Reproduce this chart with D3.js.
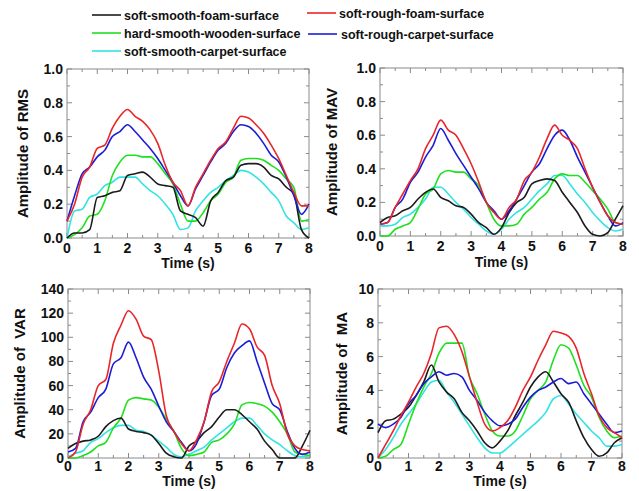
<!DOCTYPE html>
<html>
<head>
<meta charset="utf-8">
<script src="https://cdn.jsdelivr.net/npm/d3@7"></script>
<style>
  body { margin: 0; background: #fff; }
  svg text { font-family: "Liberation Sans", Arial, sans-serif; font-weight: bold; fill: #111; }
</style>
</head>
<body>
<svg width="639" height="491"></svg>
<script>
'use strict';

// time samples (s), every 0.25 s
const times = [0, 0.25, 0.5, 0.75, 1, 1.25, 1.5, 1.75, 2, 2.25, 2.5, 2.75, 3, 3.25, 3.5, 3.75, 4,
               4.25, 4.5, 4.75, 5, 5.25, 5.5, 5.75, 6, 6.25, 6.5, 6.75, 7, 7.25, 7.5, 7.75, 8];

const seriesNames = ['soft-smooth-foam-surface', 'soft-rough-foam-surface', 'hard-smooth-wooden-surface',
                     'soft-rough-carpet-surface', 'soft-smooth-carpet-surface'];
const seriesColors = ['#1c1c1c', '#e8262a', '#1fe01f', '#1c1cd6', '#33e3e3'];

// RMS
const rmsBlack = [0.0, 0.03, 0.03, 0.05, 0.24, 0.25, 0.27, 0.28, 0.37, 0.38, 0.39, 0.36, 0.32, 0.31, 0.30, 0.16, 0.14,
                  0.12, 0.07, 0.22, 0.27, 0.34, 0.36, 0.43, 0.44, 0.44, 0.42, 0.37, 0.35, 0.30, 0.26, 0.05, 0.0];
const rmsRed   = [0.10, 0.20, 0.36, 0.42, 0.53, 0.55, 0.65, 0.72, 0.76, 0.72, 0.69, 0.64, 0.56, 0.43, 0.33, 0.28, 0.19,
                  0.30, 0.38, 0.46, 0.53, 0.57, 0.65, 0.72, 0.71, 0.67, 0.62, 0.55, 0.47, 0.37, 0.27, 0.19, 0.19];
const rmsGreen = [0.0, 0.02, 0.06, 0.13, 0.14, 0.22, 0.37, 0.45, 0.49, 0.49, 0.48, 0.48, 0.44, 0.38, 0.32, 0.20, 0.10,
                  0.10, 0.15, 0.22, 0.26, 0.33, 0.36, 0.46, 0.47, 0.47, 0.46, 0.43, 0.40, 0.35, 0.30, 0.10, 0.11];
const rmsBlue  = [0.10, 0.25, 0.38, 0.42, 0.48, 0.52, 0.60, 0.63, 0.67, 0.63, 0.58, 0.53, 0.47, 0.40, 0.33, 0.25, 0.19,
                  0.29, 0.37, 0.45, 0.52, 0.56, 0.63, 0.67, 0.66, 0.62, 0.56, 0.49, 0.45, 0.36, 0.25, 0.14, 0.20];
const rmsCyan  = [0.0, 0.16, 0.17, 0.24, 0.26, 0.31, 0.33, 0.36, 0.36, 0.36, 0.32, 0.28, 0.25, 0.20, 0.14, 0.05, 0.06,
                  0.16, 0.22, 0.27, 0.30, 0.34, 0.37, 0.40, 0.39, 0.36, 0.32, 0.27, 0.22, 0.13, 0.09, 0.05, 0.06];

// MAV
const mavBlack = [0.08, 0.11, 0.12, 0.15, 0.17, 0.22, 0.26, 0.28, 0.23, 0.21, 0.18, 0.17, 0.13, 0.08, 0.05, 0.01, 0.05,
                  0.14, 0.20, 0.23, 0.31, 0.33, 0.34, 0.33, 0.26, 0.20, 0.14, 0.06, 0.01, 0.0, 0.02, 0.10, 0.18];
const mavRed   = [0.07, 0.08, 0.17, 0.25, 0.33, 0.40, 0.52, 0.60, 0.69, 0.63, 0.60, 0.52, 0.43, 0.32, 0.20, 0.14, 0.10,
                  0.17, 0.22, 0.33, 0.38, 0.47, 0.58, 0.66, 0.60, 0.57, 0.52, 0.40, 0.29, 0.20, 0.12, 0.08, 0.07];
const mavGreen = [0.0, 0.0, 0.04, 0.06, 0.08, 0.16, 0.25, 0.28, 0.37, 0.39, 0.38, 0.38, 0.34, 0.30, 0.20, 0.10, 0.06,
                  0.06, 0.07, 0.13, 0.17, 0.22, 0.26, 0.34, 0.37, 0.36, 0.36, 0.32, 0.27, 0.22, 0.16, 0.08, 0.07];
const mavBlue  = [0.07, 0.08, 0.17, 0.22, 0.32, 0.38, 0.47, 0.54, 0.64, 0.57, 0.49, 0.42, 0.35, 0.28, 0.20, 0.15, 0.10,
                  0.15, 0.22, 0.30, 0.38, 0.43, 0.52, 0.60, 0.63, 0.57, 0.47, 0.38, 0.29, 0.20, 0.12, 0.06, 0.08];
const mavCyan  = [0.06, 0.06, 0.07, 0.11, 0.13, 0.17, 0.22, 0.29, 0.29, 0.25, 0.20, 0.16, 0.11, 0.07, 0.03, 0.01, 0.04,
                  0.10, 0.14, 0.17, 0.22, 0.27, 0.31, 0.36, 0.36, 0.31, 0.25, 0.20, 0.14, 0.09, 0.05, 0.03, 0.04];

// VAR
const varBlack = [8, 12, 14, 15, 18, 26, 31, 33, 24, 22, 21, 19, 12, 4, 1, 0, 10,
                  14, 21, 26, 34, 40, 40, 36, 30, 24, 14, 7, 0, 0, 0, 10, 23];
const varRed   = [0, 5, 28, 40, 60, 65, 95, 110, 122, 115, 101, 98, 72, 35, 22, 12, 6,
                  15, 30, 55, 63, 80, 95, 111, 107, 92, 85, 60, 45, 20, 10, 7, 6];
const varGreen = [0, 0, 2, 5, 10, 13, 25, 33, 48, 50, 49, 48, 42, 32, 22, 8, 2,
                  3, 5, 13, 15, 20, 28, 44, 46, 45, 43, 38, 30, 20, 5, 3, 2];
const varBlue  = [5, 8, 30, 38, 50, 57, 78, 83, 96, 83, 67, 57, 43, 30, 22, 13, 6,
                  12, 30, 52, 57, 75, 87, 93, 97, 80, 62, 45, 40, 22, 8, 3, 5];
const varCyan  = [1, 4, 6, 13, 16, 21, 25, 27, 27, 23, 22, 19, 14, 9, 3, 1, 3,
                  6, 9, 15, 20, 25, 30, 33, 33, 27, 20, 15, 11, 6, 2, 1, 2];

// MA
const maBlack = [1.5, 2.2, 2.3, 2.6, 3.0, 3.7, 4.5, 5.5, 4.5, 3.9, 3.5, 2.7, 2.2, 1.6, 0.9, 0.6, 1.0,
                 1.6, 2.5, 3.3, 4.2, 4.8, 5.1, 4.5, 3.8, 3.3, 2.2, 1.2, 0.5, 0.1, 0.3, 0.9, 1.2];
const maRed   = [0, 0.8, 1.6, 2.5, 3.3, 4.2, 5.0, 6.2, 7.7, 7.8, 7.3, 6.3, 4.8, 3.3, 2.0, 1.6, 1.8,
                 2.2, 3.0, 4.0, 4.8, 5.8, 6.7, 7.5, 7.4, 7.2, 6.5, 5.0, 3.8, 2.5, 1.8, 1.5, 1.2];
const maGreen = [0, 0.1, 0.5, 0.8, 2.0, 3.2, 4.2, 5.0, 6.2, 6.8, 6.8, 6.8, 4.8, 3.8, 2.6, 1.6, 1.3,
                 1.3, 1.6, 2.5, 3.5, 4.0, 4.5, 5.8, 6.7, 6.5, 5.5, 4.3, 3.6, 2.4, 1.6, 1.2, 1.3];
const maBlue  = [2.0, 1.8, 2.0, 2.4, 3.2, 3.7, 4.4, 4.8, 5.1, 4.9, 5.0, 4.8, 4.0, 3.4, 2.7, 2.2, 1.9,
                 2.0, 2.3, 3.0, 3.6, 4.0, 4.2, 4.5, 4.7, 4.4, 4.5, 3.8, 3.2, 2.6, 2.0, 1.5, 1.6];
const maCyan  = [0, 0.5, 1.2, 2.0, 2.6, 3.2, 3.9, 4.5, 4.6, 3.9, 3.3, 2.6, 1.9, 1.2, 0.6, 0.3, 0.3,
                 0.6, 1.0, 1.4, 1.8, 2.2, 2.7, 3.5, 3.7, 3.2, 2.6, 2.1, 1.6, 1.2, 0.7, 0.7, 0.8];

const xTicks = [0, 1, 2, 3, 4, 5, 6, 7, 8];

const panels = [
  {title: 'Amplitude of RMS', series: [rmsBlack, rmsRed, rmsGreen, rmsBlue, rmsCyan],
   yMax: 1, yTicks: [0, 0.2, 0.4, 0.6, 0.8, 1.0], yFmt: d3.format('.1f'),
   box: {x0: 67, x1: 309, y0: 69, y1: 238}, titleX: 28, tickDy: 15, timeDy: 30},
  {title: 'Amplitude of MAV', series: [mavBlack, mavRed, mavGreen, mavBlue, mavCyan],
   yMax: 1, yTicks: [0, 0.2, 0.4, 0.6, 0.8, 1.0], yFmt: d3.format('.1f'),
   box: {x0: 380, x1: 623, y0: 68, y1: 236}, titleX: 337, tickDy: 15, timeDy: 31},
  {title: 'Amplitude of  VAR', series: [varBlack, varRed, varGreen, varBlue, varCyan],
   yMax: 140, yTicks: [0, 20, 40, 60, 80, 100, 120, 140], yFmt: d3.format('d'),
   box: {x0: 68, x1: 310, y0: 289, y1: 458}, titleX: 25, tickDy: 13, timeDy: 28},
  {title: 'Amplitude of  MA', series: [maBlack, maRed, maGreen, maBlue, maCyan],
   yMax: 10, yTicks: [0, 2, 4, 6, 8, 10], yFmt: d3.format('d'),
   box: {x0: 378, x1: 622, y0: 289, y1: 458}, titleX: 347, tickDy: 13, timeDy: 28}
];

const svg = d3.select('svg');

panels.forEach(function(p) {
  const b = p.box;
  const x = d3.scaleLinear().domain([0, 8]).range([b.x0, b.x1]);
  const y = d3.scaleLinear().domain([0, p.yMax]).range([b.y1, b.y0]);
  const g = svg.append('g');

  // frame
  g.append('rect')
    .attr('x', b.x0).attr('y', b.y0)
    .attr('width', b.x1 - b.x0).attr('height', b.y1 - b.y0)
    .attr('fill', 'none').attr('stroke', '#8a8a8a').attr('stroke-width', 1);

  // ticks pointing inward, on all four sides
  const xMinor = d3.range(0, 8.01, 0.5);
  const yStep = p.yTicks[1] - p.yTicks[0];
  const yMinor = d3.range(0, p.yMax + yStep / 4, yStep / 2);
  const tickColor = '#8a8a8a';
  xMinor.forEach(function(t, i) {
    const len = i % 2 === 0 ? 5 : 3;
    g.append('line').attr('x1', x(t)).attr('x2', x(t)).attr('y1', b.y1).attr('y2', b.y1 - len).attr('stroke', tickColor);
    g.append('line').attr('x1', x(t)).attr('x2', x(t)).attr('y1', b.y0).attr('y2', b.y0 + len).attr('stroke', tickColor);
  });
  yMinor.forEach(function(v, i) {
    const len = i % 2 === 0 ? 5 : 3;
    g.append('line').attr('y1', y(v)).attr('y2', y(v)).attr('x1', b.x0).attr('x2', b.x0 + len).attr('stroke', tickColor);
    g.append('line').attr('y1', y(v)).attr('y2', y(v)).attr('x1', b.x1).attr('x2', b.x1 - len).attr('stroke', tickColor);
  });

  // tick labels
  g.selectAll('text.xt').data(xTicks).enter().append('text')
    .attr('x', d => x(d)).attr('y', b.y1 + p.tickDy)
    .attr('text-anchor', 'middle').attr('font-size', 14)
    .text(d => d);
  g.selectAll('text.yt').data(p.yTicks).enter().append('text')
    .attr('x', b.x0 - 4).attr('y', d => y(d) + 5)
    .attr('text-anchor', 'end').attr('font-size', 14)
    .text(d => p.yFmt(d));

  // axis titles
  g.append('text')
    .attr('x', (b.x0 + b.x1) / 2).attr('y', b.y1 + p.timeDy)
    .attr('text-anchor', 'middle').attr('font-size', 14)
    .text('Time (s)');
  g.append('text')
    .attr('transform', 'translate(' + p.titleX + ',' + ((b.y0 + b.y1) / 2) + ') rotate(-90)')
    .attr('text-anchor', 'middle').attr('font-size', 15)
    .style('white-space', 'pre')
    .text(p.title);

  // lines
  const line = d3.line()
    .x((d, i) => x(times[i]))
    .y(d => y(d))
    .curve(d3.curveMonotoneX);
  const order = [4, 2, 0, 3, 1];
  order.forEach(function(k) {
    g.append('path')
      .datum(p.series[k])
      .attr('d', line)
      .attr('fill', 'none')
      .attr('stroke', seriesColors[k])
      .attr('stroke-width', 1.6);
  });
});

// legend
const legendItems = [
  {k: 0, lx: 92, tx: 124, y: 15},
  {k: 1, lx: 307, tx: 339, y: 13},
  {k: 2, lx: 92, tx: 124, y: 33},
  {k: 3, lx: 308, tx: 341, y: 34},
  {k: 4, lx: 92, tx: 124, y: 51}
];
const legend = svg.append('g');
legendItems.forEach(function(it) {
  legend.append('line')
    .attr('x1', it.lx).attr('x2', it.lx + 29)
    .attr('y1', it.y).attr('y2', it.y)
    .attr('stroke', seriesColors[it.k]).attr('stroke-width', 1.6);
  legend.append('text')
    .attr('x', it.tx).attr('y', it.y + 5)
    .attr('font-size', 12.5)
    .text(seriesNames[it.k]);
});
</script>
</body>
</html>
